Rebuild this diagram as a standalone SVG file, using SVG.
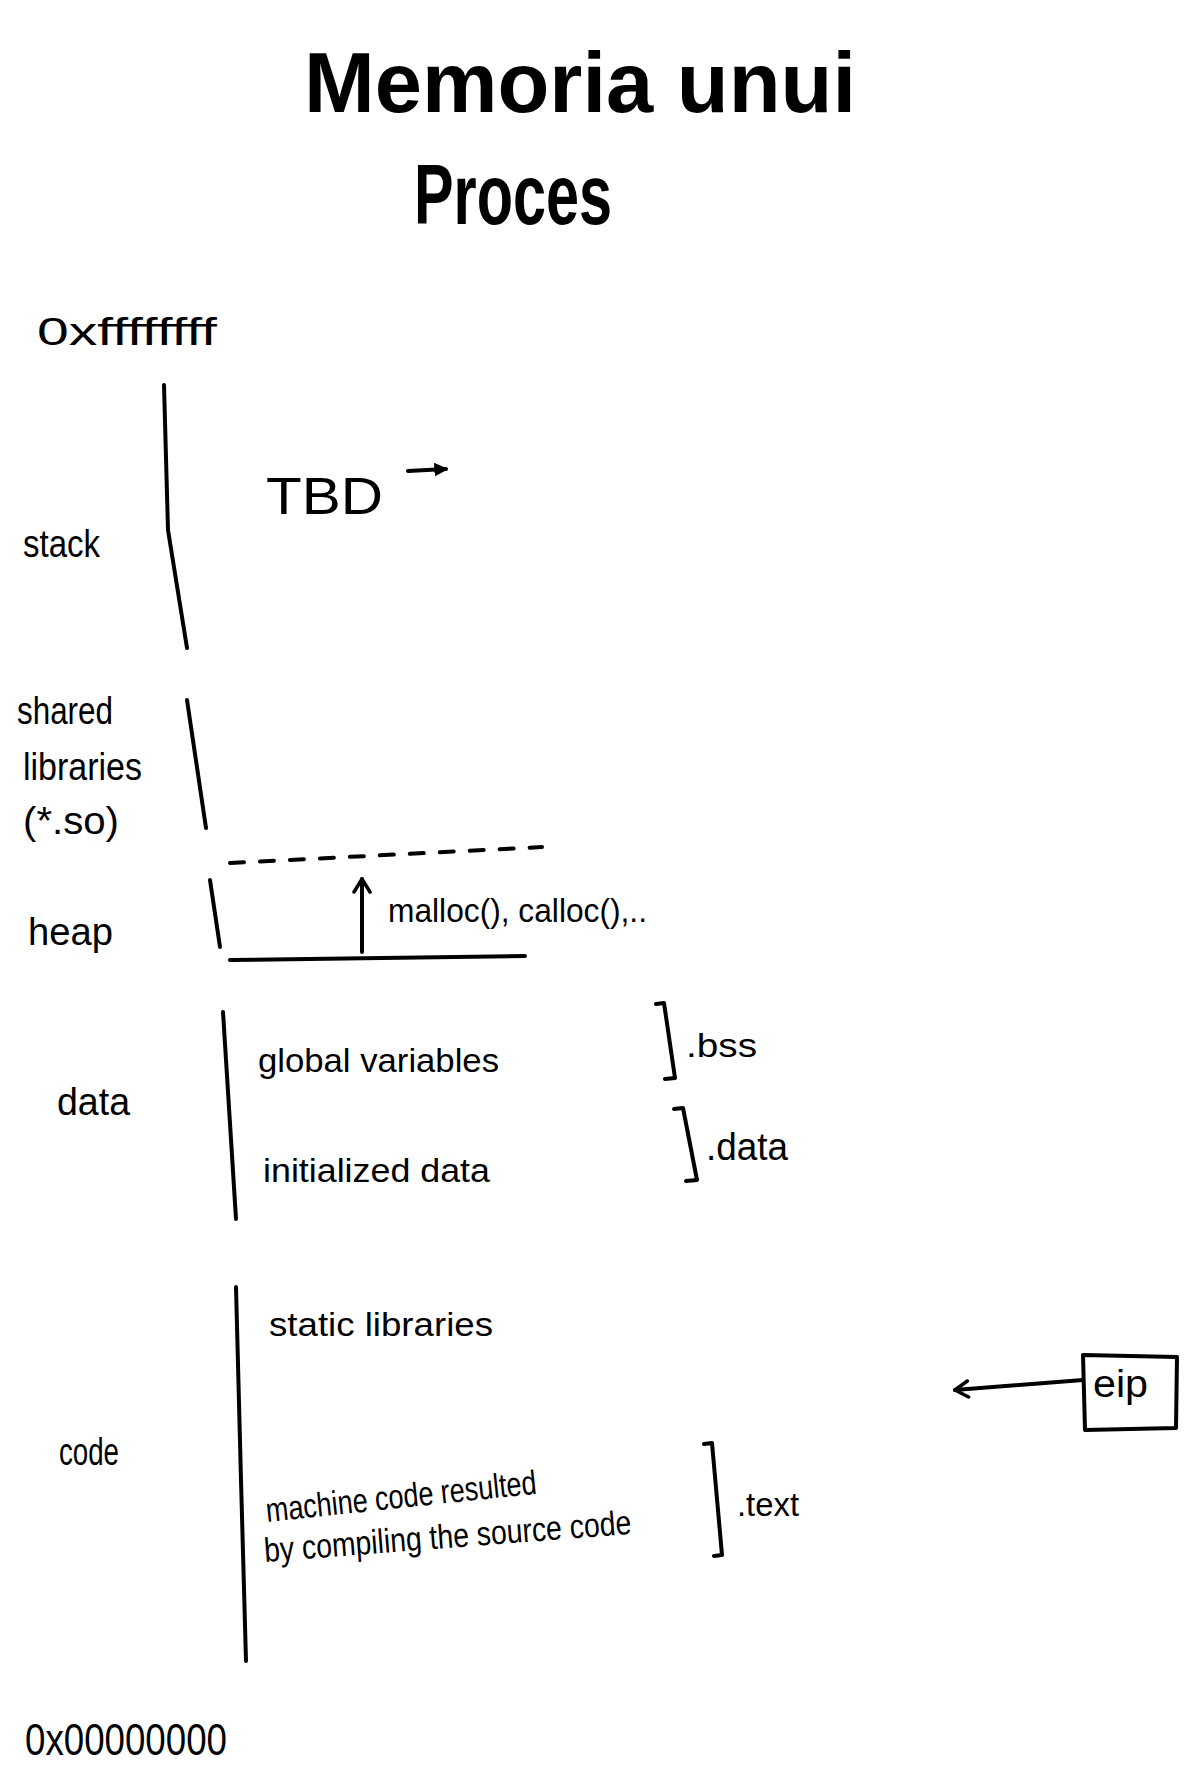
<svg xmlns="http://www.w3.org/2000/svg" width="1196" height="1777" viewBox="0 0 1196 1777">
  <style>
    .t { font-family: "Liberation Sans", Arial, sans-serif; fill: #000; }
    .title { font-weight: bold; font-size: 86px; }
    .lbl { font-size: 38px; }
    .sm { font-size: 34px; }
    .ln { fill: none; stroke: #000; stroke-width: 4; stroke-linecap: round; stroke-linejoin: round; }
    .dash { fill: none; stroke: #000; stroke-width: 4; stroke-linecap: round; stroke-dasharray: 14 16; }
  </style>
  <defs>
    <marker id="openHead" viewBox="0 0 20 20" refX="18" refY="10" markerWidth="20" markerHeight="20" markerUnits="userSpaceOnUse" orient="auto">
      <path d="M5,2 L18,10 L5,18" fill="none" stroke="#000" stroke-width="3.5" stroke-linecap="round" stroke-linejoin="round"/>
    </marker>
    <marker id="fillHead" viewBox="0 0 12 12" refX="10" refY="6" markerWidth="14" markerHeight="14" markerUnits="userSpaceOnUse" orient="auto">
      <path d="M0,0 L12,6 L0,12 Z" fill="#000"/>
    </marker>
  </defs>
  <rect width="1196" height="1777" fill="#fff"/>

  <g id="title">
    <text class="t title" x="304" y="112" textLength="552" lengthAdjust="spacingAndGlyphs">Memoria unui</text>
    <text class="t title" x="414" y="224" textLength="198" lengthAdjust="spacingAndGlyphs">Proces</text>
  </g>

  <g id="addr-top">
    <text class="t lbl" x="37" y="345" font-size="40" textLength="180" lengthAdjust="spacingAndGlyphs">0xffffffff</text>
  </g>

  <g id="stack">
    <text class="t lbl" x="23" y="557" textLength="77" lengthAdjust="spacingAndGlyphs">stack</text>
    <path class="ln" d="M164,385 L168,530 L187,648"/>
    <text class="t" x="266" y="514" font-size="52" textLength="117" lengthAdjust="spacingAndGlyphs">TBD</text>
  </g>

  <g id="shared-libraries">
    <text class="t lbl" x="17" y="724" textLength="96" lengthAdjust="spacingAndGlyphs">shared</text>
    <text class="t lbl" x="23" y="780" textLength="119" lengthAdjust="spacingAndGlyphs">libraries</text>
    <text class="t lbl" x="23" y="834" textLength="96" lengthAdjust="spacingAndGlyphs">(*.so)</text>
    <path class="ln" d="M187,700 L206,828"/>
  </g>

  <g id="heap">
    <text class="t lbl" x="28" y="945" textLength="85" lengthAdjust="spacingAndGlyphs">heap</text>
    <path class="dash" d="M230,863 L542,847"/>
    <path class="ln" d="M210,880 L220,947"/>
    <path class="ln" d="M230,960 L525,956"/>
    <text class="t sm" x="388" y="922" textLength="259" lengthAdjust="spacingAndGlyphs">malloc(), calloc(),..</text>
  </g>

  <g id="data">
    <text class="t lbl" x="57" y="1115" textLength="73" lengthAdjust="spacingAndGlyphs">data</text>
    <path class="ln" d="M223,1012 L236,1219"/>
    <text class="t sm" x="258" y="1072" textLength="241" lengthAdjust="spacingAndGlyphs">global variables</text>
    <text class="t sm" x="263" y="1182" textLength="227" lengthAdjust="spacingAndGlyphs">initialized data</text>
    <path class="ln" d="M656,1004 L664,1003 L675,1078 L665,1079"/>
    <text class="t sm" x="686" y="1057" textLength="71" lengthAdjust="spacingAndGlyphs">.bss</text>
    <path class="ln" d="M674,1109 L683,1108 L697,1180 L686,1181"/>
    <text class="t lbl" x="706" y="1160" textLength="82" lengthAdjust="spacingAndGlyphs">.data</text>
  </g>

  <g id="code">
    <text class="t lbl" x="59" y="1465" textLength="60" lengthAdjust="spacingAndGlyphs">code</text>
    <path class="ln" d="M236,1287 L241,1480 L246,1661"/>
    <text class="t sm" x="269" y="1336" textLength="224" lengthAdjust="spacingAndGlyphs">static libraries</text>
    <text class="t sm" x="267" y="1522" transform="rotate(-6 267 1522)" textLength="272" lengthAdjust="spacingAndGlyphs">machine code resulted</text>
    <text class="t sm" x="265" y="1562" transform="rotate(-4.4 265 1562)" textLength="368" lengthAdjust="spacingAndGlyphs">by compiling the source code</text>
    <path class="ln" d="M704,1444 L712,1443 L722,1555 L714,1556"/>
    <text class="t sm" x="737" y="1516" textLength="62" lengthAdjust="spacingAndGlyphs">.text</text>
  </g>

  <g id="eip">
    <path class="ln" d="M1083,1355 L1177,1357 L1176,1428 L1085,1430 Z"/>
    <text class="t lbl" x="1093" y="1397" textLength="55" lengthAdjust="spacingAndGlyphs">eip</text>
  </g>

  <g id="addr-bottom">
    <text class="t" x="25" y="1755" font-size="44" textLength="202" lengthAdjust="spacingAndGlyphs">0x00000000</text>
  </g>

  <g id="connectors">
    <path class="ln" d="M408,471 L446,469" marker-end="url(#fillHead)"/>
    <path class="ln" d="M362,952 L362,879" marker-end="url(#openHead)"/>
    <path class="ln" d="M1083,1380 L955,1390" marker-end="url(#openHead)"/>
  </g>
</svg>
